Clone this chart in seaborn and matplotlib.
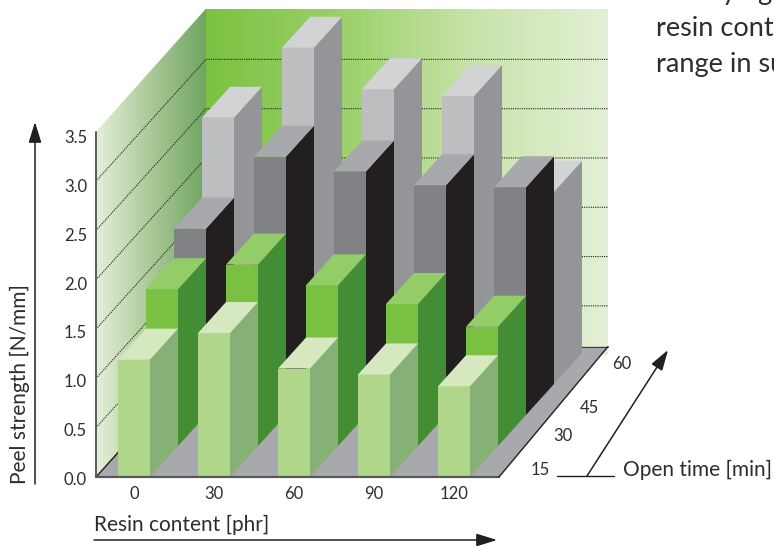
import numpy as np
import pandas as pd
import seaborn as sns
import matplotlib
matplotlib.use("Agg")
import matplotlib.pyplot as plt
from matplotlib.patches import Polygon

# Peel strength [N/mm] by resin content (columns) and open time (rows)
resin_content = [0, 30, 60, 90, 120]
open_time = [15, 30, 45, 60]
peel_15 = [1.19, 1.46, 1.10, 1.04, 0.92]
peel_30 = [1.59, 1.84, 1.63, 1.44, 1.21]
peel_45 = [1.89, 2.62, 2.47, 2.33, 2.31]
peel_60 = [2.70, 3.41, 2.99, 2.92, 1.95]
y_ticks = [0.0, 0.5, 1.0, 1.5, 2.0, 2.5, 3.0, 3.5]

# Face colours of each row of columns: front, top, side
row_colors = [
    ("#B0D68A", "#D5E8BF", "#87B076"),
    ("#7AC143", "#93CD68", "#438D35"),
    ("#808285", "#A7A9AC", "#231F20"),
    ("#BCBEC0", "#D1D3D4", "#939598"),
]
INK = "#2E2C2D"

sns.set_theme(style="white")
plt.rcParams["font.family"] = ["Lato", "DejaVu Sans"]

W, H = 774, 546
fig = plt.figure(figsize=(W / 100, H / 100), dpi=100)
ax = fig.add_axes([0, 0, 1, 1])

# Data space: x counts columns, y is peel strength
PX_X, PX_Y = 80.0, 98.6
X0, Y0 = 118.0, 477.0
XLIM = (-X0 / PX_X, (W - X0) / PX_X)
YLIM = ((Y0 - H) / PX_Y, Y0 / PX_Y)

# Oblique offset per row of depth, and the bar footprint
DX, DY = 28.0 / PX_X, 31.0 / PX_Y
BAR_W = 0.4
WALL_D = 3.93
WALL_TOP_PAD = 0.015
FLOOR_L, FLOOR_R = (96 - X0) / PX_X, (499 - X0) / PX_X
BACK_R = (608 - X0) / PX_X - DX * WALL_D
FLOOR_LIFT = 0.087


def obl(x, depth, v):
    return x + DX * depth, v + DY * depth


def px(x, y):
    """Canvas position, for annotation layout."""
    return (x - X0) / PX_X, (Y0 - y) / PX_Y


def ramp(poly, extent, stops):
    cmap = sns.blend_palette(stops, as_cmap=True)
    im = ax.imshow(np.linspace(0, 1, 256).reshape(1, -1), cmap=cmap, extent=extent,
                   aspect="auto", zorder=0, interpolation="bilinear")
    patch = Polygon(poly, closed=True, transform=ax.transData, fc="none", ec="none")
    ax.add_patch(patch)
    im.set_clip_path(patch)


top = y_ticks[-1]
bl = obl(FLOOR_L, 0, 0)
tl = obl(FLOOR_L, 0, top)
bb = obl(FLOOR_L, WALL_D, 0)
tb = obl(FLOOR_L, WALL_D, top + WALL_TOP_PAD)
br = obl(BACK_R, WALL_D, 0)
tr = obl(BACK_R, WALL_D, top + WALL_TOP_PAD)

# Gradient walls
ramp([bl, tl, tb, bb], (bl[0], bb[0], 0, top + 2),
     ["#E4F0D8", "#AAC896", "#6EA55F"])
ramp([bb, tb, tr, br], (bb[0], br[0], 0, top + 2),
     ["#7CC242", "#9BD069", "#C8E3AA", "#E3F0D5"])

# Floor slab
floor_back = bb[1] + FLOOR_LIFT
ax.add_patch(Polygon([bl, obl(FLOOR_R, 0, 0), (br[0], floor_back), (bb[0], floor_back)],
                     closed=True, fc="#A7A9AC", ec="none", zorder=0.5))

# Dotted gridlines along both walls
for v in y_ticks[1:-1]:
    a, b, c = obl(FLOOR_L, 0, v), obl(FLOOR_L, WALL_D, v), obl(BACK_R, WALL_D, v)
    ax.plot([a[0], b[0], c[0]], [a[1], b[1], c[1]], color="#231F20", lw=0.8,
            ls=(0, (1, 1)), zorder=0.6)

# Columns, back row first so nearer rows overlap them
rows = [peel_15, peel_30, peel_45, peel_60]
for r in reversed(range(len(rows))):
    front, top_c, side = row_colors[r]
    frame = pd.DataFrame({"pos": [i + BAR_W / 2 + DX * r for i in range(len(resin_content))],
                          "peel": rows[r]})
    sns.barplot(data=frame, x="pos", y="peel", native_scale=True, width=BAR_W,
                bottom=DY * r, color=front, saturation=1, linewidth=0, ax=ax,
                errorbar=None, zorder=1)
    for i, v in enumerate(rows[r]):
        ax.add_patch(Polygon([obl(i + BAR_W, r, 0), obl(i + BAR_W, r, v),
                              obl(i + BAR_W, r + 1, v), obl(i + BAR_W, r + 1, 0)],
                             closed=True, fc=side, ec="none", zorder=1))
        ax.add_patch(Polygon([obl(i, r, v), obl(i + BAR_W, r, v),
                              obl(i + BAR_W, r + 1, v), obl(i, r + 1, v)],
                             closed=True, fc=top_c, ec="none", zorder=1))

# Frame lines of the box
ax.plot([bl[0], tl[0]], [bl[1], tl[1]], color="#58595B", lw=1.4, zorder=2)
ax.plot([bl[0], FLOOR_R], [0, 0], color="#58595B", lw=1.6, zorder=2)
ax.plot([FLOOR_R, br[0]], [0, floor_back], color="#231F20", lw=1.0, zorder=2)
ax.plot([bb[0], br[0]], [floor_back, floor_back], color="#231F20", lw=0.6, zorder=0.7)
corner = obl(FLOOR_L, 0.8, 0)
ax.plot([FLOOR_L, corner[0]], [0, corner[1]], color="#231F20", lw=1.0, zorder=0.7)

# Tick labels
LABEL = 12.0
for v in y_ticks:
    x, y = px(87, 480 - 97.7 * v)
    ax.text(x, y, f"{v:.1f}", ha="right", va="center", fontsize=LABEL, color=INK, zorder=3)
for i, c in enumerate(resin_content):
    x, y = px(0, 494)
    ax.text(i + BAR_W / 2, y, str(c), ha="center", va="center", fontsize=LABEL, color=INK)
for t, (a, b) in zip(open_time, [(540, 470), (563, 436), (589, 408), (622, 364)]):
    x, y = px(a, b)
    ax.text(x, y, str(t), ha="center", va="center", fontsize=LABEL, color=INK)

# Axis titles and arrows
TITLE = 15.0
arrow = dict(arrowstyle="-|>,head_length=0.9,head_width=0.28", color="#231F20", lw=1.1,
             shrinkA=0, shrinkB=0, mutation_scale=14)
ax.annotate("", xy=px(35, 122), xytext=px(35, 484), arrowprops=arrow)
ax.annotate("", xy=px(497, 540), xytext=px(94, 540), arrowprops=arrow)
ax.annotate("", xy=px(668, 350), xytext=px(587, 476), arrowprops=arrow)
ax.plot(*zip(px(557, 476), px(614, 476)), color="#231F20", lw=1.0)

x, y = px(20, 384)
ax.text(x, y, "Peel strength [N/mm]", rotation=90, ha="center", va="center", fontsize=TITLE, color=INK)
x, y = px(94, 525)
ax.text(x, y, "Resin content [phr]", ha="left", va="center", fontsize=TITLE, color=INK)
x, y = px(623, 470)
ax.text(x, y, "Open time [min]", ha="left", va="center", fontsize=TITLE, color=INK)

# Running text beside the chart, cut by the page edge
for s, a, b in [("y", 722, 0), ("g", 757, 0), ("resin cont", 656, 36), ("range in su", 656, 72)]:
    x, y = px(a, b)
    ax.text(x, y, s, ha="left", va="baseline", fontsize=19.5, color=INK)

ax.set_xlim(*XLIM)
ax.set_ylim(*YLIM)
ax.set_axis_off()
fig.savefig("out.png", dpi=100, facecolor="white")
